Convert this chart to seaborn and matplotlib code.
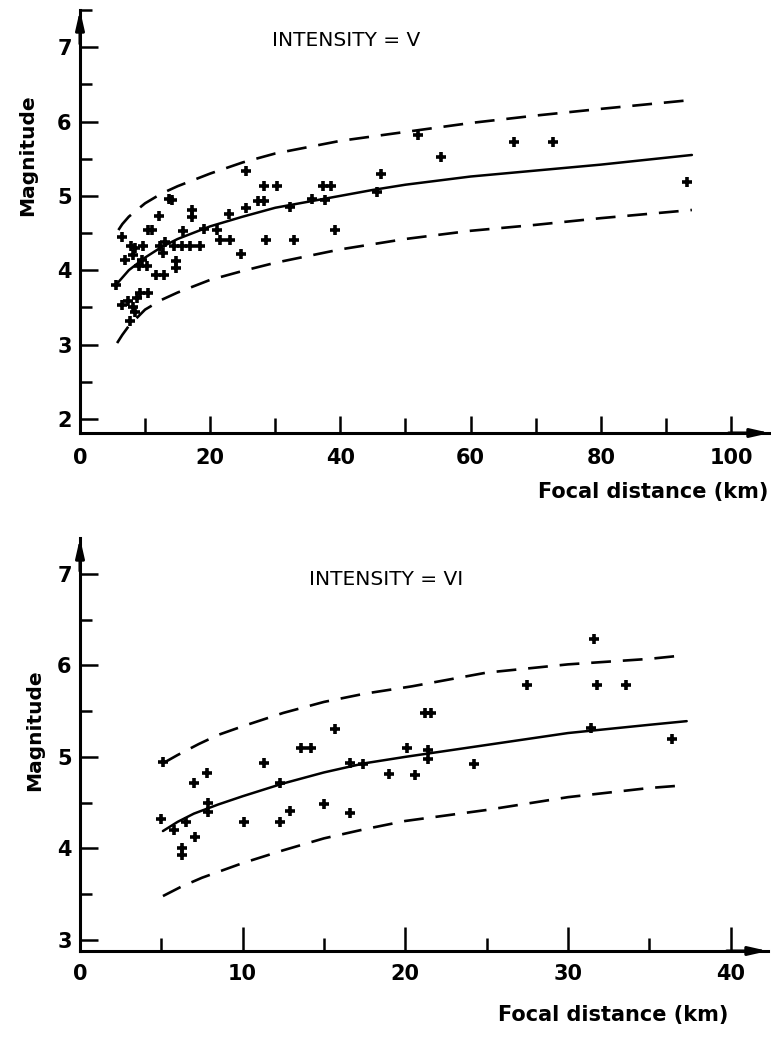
import matplotlib
matplotlib.use("Agg")
import matplotlib.pyplot as plt
import seaborn as sns
from matplotlib.ticker import MultipleLocator

# Intensity V : observed points (focal distance km, magnitude)
v_dist = [5.5, 6.5, 6.9, 7.8, 8.5, 9.7, 8.1, 9.1, 10.3, 9.5,
          6.4, 7.4, 8.2, 8.7, 9.2, 10.4, 7.7, 8.5,
          10.4, 11.1, 11.6, 12.9, 12.1, 12.3, 13.1, 12.8,
          13.7, 14.1, 14.4, 15.6, 16.9, 18.4, 14.8, 14.8,
          15.8, 17.2, 17.2, 19.1, 21.1, 21.5, 23.1, 22.9,
          24.7, 25.5, 25.5, 27.3, 28.2, 28.2, 30.2, 28.5,
          32.2, 32.9, 35.6, 37.3, 38.5, 37.7, 39.2, 45.7, 46.2,
          51.9, 55.4, 66.6, 72.7, 93.2]
v_mag = [3.80, 4.45, 4.14, 4.32, 4.30, 4.32, 4.20, 4.05, 4.05, 4.14,
         3.53, 3.58, 3.50, 3.63, 3.69, 3.69, 3.32, 3.44,
         4.54, 4.54, 3.93, 3.93, 4.73, 4.32, 4.38, 4.23,
         4.96, 4.94, 4.33, 4.33, 4.33, 4.33, 4.12, 4.03,
         4.53, 4.81, 4.72, 4.55, 4.54, 4.41, 4.41, 4.75,
         4.22, 5.33, 4.84, 4.93, 4.93, 5.13, 5.13, 4.41,
         4.85, 4.41, 4.96, 5.13, 5.13, 4.95, 4.54, 5.05, 5.30,
         5.82, 5.52, 5.73, 5.73, 5.18]

# Intensity V : curves
v_fit_x = [5.5, 7.5, 10, 12.5, 15, 20, 25, 30, 40, 45, 50, 60, 70, 80, 94]
v_fit_y = [3.80, 4.00, 4.17, 4.31, 4.42, 4.59, 4.72, 4.84, 5.00, 5.08, 5.15,
           5.26, 5.34, 5.42, 5.55]
v_up_x = [5.9, 6.5, 7.5, 10, 12.5, 15, 20, 25, 30, 40, 50, 60, 70, 80, 94]
v_up_y = [4.54, 4.62, 4.72, 4.90, 5.03, 5.13, 5.30, 5.45, 5.57, 5.74, 5.86,
          5.98, 6.08, 6.17, 6.29]
v_lo_x = [5.7, 6.5, 7.5, 10, 12.5, 15, 20, 25, 30, 40, 50, 60, 70, 80, 94]
v_lo_y = [3.02, 3.13, 3.25, 3.47, 3.60, 3.70, 3.87, 3.99, 4.10, 4.28, 4.42,
          4.53, 4.61, 4.70, 4.81]

# Intensity VI : observed points
vi_dist = [5.0, 5.1, 5.8, 6.5, 6.3, 6.3, 7.1, 7.0, 7.8, 7.9, 7.9,
           10.1, 11.3, 12.3, 12.3, 12.9, 13.6, 14.2, 15.0, 15.7, 16.6,
           16.6, 17.4, 19.0, 20.1, 20.6, 21.2, 21.6, 21.4, 21.4, 24.2,
           27.5, 31.6, 31.8, 33.6, 31.4, 36.4]
vi_mag = [4.32, 4.94, 4.20, 4.29, 4.01, 3.93, 4.12, 4.72, 4.82, 4.50, 4.40,
          4.29, 4.93, 4.71, 4.29, 4.41, 5.10, 5.10, 4.49, 5.30, 4.39,
          4.93, 4.92, 4.81, 5.10, 4.80, 5.48, 5.48, 5.08, 4.98, 4.92,
          5.78, 6.29, 5.78, 5.78, 5.32, 5.20]

vi_fit_x = [5.1, 6, 7, 8.5, 10, 12.5, 15, 17.5, 20, 25, 30, 35, 37.3]
vi_fit_y = [4.19, 4.29, 4.38, 4.48, 4.57, 4.71, 4.83, 4.93, 5.00, 5.13, 5.26,
            5.35, 5.39]
vi_up_x = [5.1, 6, 7.3, 8.5, 10.1, 12.5, 15.0, 17.5, 20.4, 25, 30, 35, 37.2]
vi_up_y = [4.93, 5.02, 5.14, 5.24, 5.34, 5.48, 5.60, 5.69, 5.77, 5.92, 6.01,
           6.07, 6.11]
vi_lo_x = [5.1, 6.2, 7.5, 10, 12.5, 15, 17.5, 20, 25, 30, 35, 37.2]
vi_lo_y = [3.48, 3.58, 3.68, 3.84, 3.98, 4.11, 4.21, 4.30, 4.42, 4.56, 4.66,
           4.69]

sns.set_style("ticks")
plt.rcParams["font.family"] = ["DejaVu Sans"]
plt.rcParams["text.color"] = "black"
plt.rcParams["xtick.color"] = "black"
plt.rcParams["ytick.color"] = "black"
plt.rcParams["axes.edgecolor"] = "black"

W, H = 771, 1050
fig = plt.figure(figsize=(W / 100, H / 100), dpi=100)
ax1 = fig.add_axes([80 / W, 1 - 433 / H, 690 / W, 423 / H])
ax2 = fig.add_axes([80 / W, 1 - 951 / H, 688 / W, 413 / H])

dash = (0, (7.5, 4.5))


def draw_panel(ax, px, py, fx, fy, ux, uy, lx, ly):
    sns.lineplot(x=fx, y=fy, color="k", lw=1.8, estimator=None, sort=False, ax=ax)
    sns.lineplot(x=ux, y=uy, color="k", lw=1.9, linestyle=dash,
                 estimator=None, sort=False, ax=ax)
    sns.lineplot(x=lx, y=ly, color="k", lw=1.9, linestyle=dash,
                 estimator=None, sort=False, ax=ax)
    sns.scatterplot(x=px, y=py, marker="+", s=55, color="k",
                    linewidth=2.6, ax=ax, zorder=3)
    sns.despine(ax=ax)
    for s in ("left", "bottom"):
        ax.spines[s].set_linewidth(2.2)
        ax.spines[s].set_color("black")
    ax.tick_params(which="both", direction="in", width=1.8, colors="k",
                   labelsize=15)
    ax.yaxis.set_major_locator(MultipleLocator(1))
    ax.yaxis.set_minor_locator(MultipleLocator(0.5))
    ax.tick_params(axis="y", which="major", length=13, pad=6)
    ax.tick_params(axis="y", which="minor", length=8.5)
    # arrow heads on the axes
    arr = dict(arrowstyle="-|>,head_length=1.1,head_width=0.25", color="k",
               lw=2.2, shrinkA=0, shrinkB=0)
    ax.annotate("", xy=(1.0, 0), xytext=(0.94, 0), xycoords="axes fraction",
                arrowprops=arr, annotation_clip=False)
    ax.annotate("", xy=(0, 1.0), xytext=(0, 0.92), xycoords="axes fraction",
                arrowprops=arr, annotation_clip=False)
    ax.set_xlabel("")
    ax.set_ylabel("")


draw_panel(ax1, v_dist, v_mag, v_fit_x, v_fit_y, v_up_x, v_up_y, v_lo_x, v_lo_y)
ax1.set_xlim(0, 106)
ax1.set_ylim(1.81, 7.5)
ax1.xaxis.set_major_locator(MultipleLocator(20))
ax1.xaxis.set_minor_locator(MultipleLocator(10))
ax1.tick_params(axis="x", which="major", length=12, pad=11)
ax1.tick_params(axis="x", which="minor", length=11)
ax1.text(29.5, 7.09, "INTENSITY = V", fontsize=14.5, va="center", ha="left")
for lab in ax1.get_xticklabels() + ax1.get_yticklabels():
    lab.set_fontweight("bold")

draw_panel(ax2, vi_dist, vi_mag, vi_fit_x, vi_fit_y, vi_up_x, vi_up_y, vi_lo_x, vi_lo_y)
ax2.set_xlim(0, 42.3)
ax2.set_ylim(2.88, 7.39)
ax2.xaxis.set_major_locator(MultipleLocator(10))
ax2.xaxis.set_minor_locator(MultipleLocator(5))
ax2.tick_params(axis="x", which="major", length=17, pad=9)
ax2.tick_params(axis="x", which="minor", length=9.5)
ax2.text(14.1, 6.94, "INTENSITY = VI", fontsize=14.5, va="center", ha="left")
for lab in ax2.get_xticklabels() + ax2.get_yticklabels():
    lab.set_fontweight("bold")

fig.text(768 / W, 1 - 492 / H, "Focal distance (km)", fontsize=15,
         fontweight="bold", ha="right", va="center")
fig.text(728 / W, 1 - 1015 / H, "Focal distance (km)", fontsize=15,
         fontweight="bold", ha="right", va="center")
fig.text(28 / W, 1 - 155 / H, "Magnitude", fontsize=14.5, fontweight="bold",
         rotation=90, ha="center", va="center")
fig.text(35 / W, 1 - 730 / H, "Magnitude", fontsize=14.5, fontweight="bold",
         rotation=90, ha="center", va="center")

fig.savefig("out.png", dpi=100)
